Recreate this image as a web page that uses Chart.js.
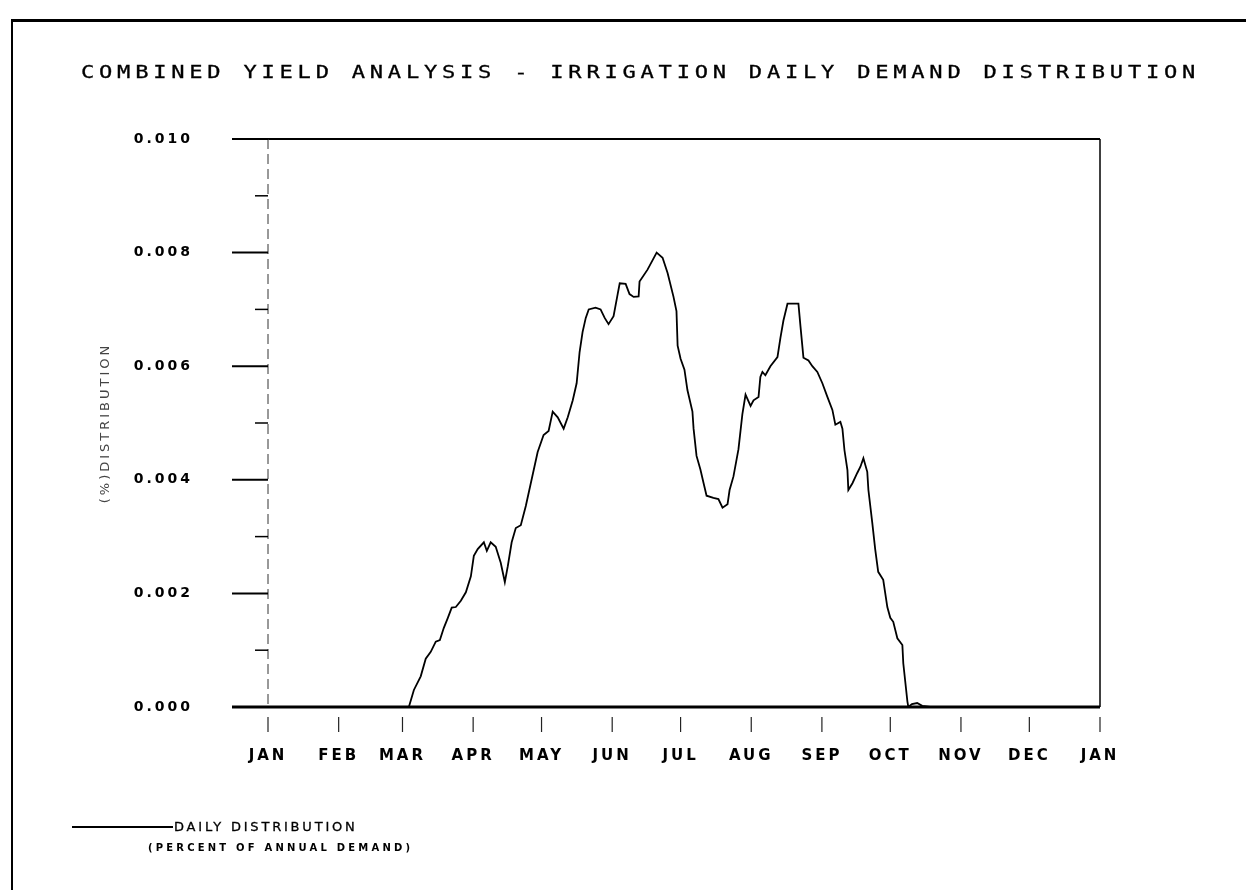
<!DOCTYPE html>
<html><head><meta charset="utf-8">
<script src="https://cdn.jsdelivr.net/npm/chart.js@4/dist/chart.umd.min.js"></script>
<style>
html,body{margin:0;padding:0;background:#fff;}
#wrap{position:relative;width:1246px;height:890px;overflow:hidden;background:#fff;}
#frame{position:absolute;left:11px;top:19px;width:1260px;height:900px;border-top:3px solid #000;border-left:2px solid #000;box-sizing:border-box;}
#title{position:absolute;left:81px;top:62px;font:17px "DejaVu Sans Mono";letter-spacing:3.65px;white-space:nowrap;color:#000;line-height:21px;transform:scaleX(1.3);transform-origin:0 0;-webkit-text-stroke:0.3px #000;}
#legline{position:absolute;left:72px;top:826px;width:101px;height:2px;background:#000;}
#leg1{position:absolute;left:174px;top:818px;font:13px "DejaVu Sans";letter-spacing:2.8px;white-space:nowrap;color:#000;line-height:18px;-webkit-text-stroke:0.3px #000;}
#leg2{position:absolute;left:148px;top:841px;font:bold 10px "DejaVu Sans";letter-spacing:3.2px;white-space:nowrap;color:#000;line-height:14px;}
canvas{position:absolute;left:0;top:0;}
</style></head>
<body>
<div id="wrap">
  <canvas id="c" width="1246" height="890"></canvas>
  <div id="frame"></div>
  <div id="title">COMBINED YIELD ANALYSIS - IRRIGATION DAILY DEMAND DISTRIBUTION</div>
  <div id="legline"></div>
  <div id="leg1">DAILY DISTRIBUTION</div>
  <div id="leg2">(PERCENT OF ANNUAL DEMAND)</div>
</div>
<script>
// ---- data ----
const monthStarts = [0, 31, 59, 90, 120, 151, 181, 212, 243, 273, 304, 334, 365];
const monthLabels = ['JAN','FEB','MAR','APR','MAY','JUN','JUL','AUG','SEP','OCT','NOV','DEC','JAN'];
const yMajorTicks = [0, 0.002, 0.004, 0.006, 0.008, 0.010];
const yMinorTicks = [0.001, 0.003, 0.005, 0.007, 0.009];
const dayOfYear = [0, 61.8, 64.0, 67.0, 69.2, 71.4, 73.6, 75.4, 77.1, 78.9, 80.6, 82.4, 84.6, 86.8, 89.0, 90.3, 92.0, 94.7, 96.0, 97.7, 99.9, 102.1, 103.9, 105.2, 106.9, 108.7, 110.9, 113.1, 118.3, 120.9, 123.1, 124.9, 127.1, 129.7, 131.5, 133.7, 135.4, 136.7, 138.0, 139.4, 140.7, 143.7, 145.9, 147.7, 149.4, 151.6, 153.4, 154.3, 156.9, 158.6, 160.4, 162.6, 163.0, 166.5, 170.5, 173.1, 175.3, 177.9, 179.2, 179.7, 181.0, 182.7, 184.0, 186.2, 186.7, 188.0, 189.7, 191.1, 192.4, 195.4, 197.6, 199.4, 201.6, 202.5, 204.2, 206.4, 208.1, 209.5, 211.7, 213.0, 215.2, 216.0, 216.9, 218.2, 220.4, 223.5, 224.8, 226.1, 227.9, 229.2, 232.7, 233.6, 234.9, 237.1, 238.8, 241.0, 243.2, 245.4, 247.6, 248.9, 251.1, 252.0, 252.9, 254.2, 254.6, 256.4, 258.5, 259.9, 261.2, 262.9, 263.4, 265.1, 266.4, 267.7, 269.9, 271.7, 273.0, 274.3, 276.1, 278.3, 278.7, 280.5, 280.9, 282.5, 284.8, 287.0, 290.5, 365];
const dailyDistribution = [0, 0, 0.0003, 0.00054, 0.00085, 0.00097, 0.00115, 0.00118, 0.00139, 0.00157, 0.00175, 0.00176, 0.00187, 0.00202, 0.0023, 0.00266, 0.00278, 0.0029, 0.00275, 0.0029, 0.00282, 0.00254, 0.0022, 0.00248, 0.0029, 0.00315, 0.0032, 0.00354, 0.00449, 0.00479, 0.00486, 0.0052, 0.0051, 0.0049, 0.0051, 0.0054, 0.0057, 0.00625, 0.0066, 0.00685, 0.007, 0.00703, 0.007, 0.00685, 0.00674, 0.00688, 0.00727, 0.00746, 0.00745, 0.00727, 0.00722, 0.00723, 0.00749, 0.0077, 0.008, 0.00791, 0.00764, 0.00722, 0.00697, 0.00636, 0.00613, 0.00594, 0.00558, 0.0052, 0.0049, 0.00442, 0.00418, 0.00394, 0.00372, 0.00368, 0.00366, 0.00351, 0.00357, 0.00382, 0.00406, 0.00454, 0.00515, 0.0055, 0.0053, 0.0054, 0.00546, 0.00581, 0.0059, 0.00584, 0.006, 0.00616, 0.0065, 0.0068, 0.0071, 0.0071, 0.0071, 0.0067, 0.00615, 0.0061, 0.006, 0.0059, 0.0057, 0.00546, 0.00523, 0.00497, 0.00502, 0.0049, 0.00452, 0.00417, 0.00382, 0.00394, 0.00412, 0.00423, 0.00438, 0.00414, 0.00382, 0.00324, 0.00277, 0.00238, 0.00224, 0.00176, 0.00157, 0.0015, 0.00121, 0.00109, 0.00077, 0.0001, 0, 0.00005, 0.00007, 0.00002, 0, 0];

const points = dayOfYear.map((d, i) => ({x: d, y: dailyDistribution[i]}));

const spacingPlugin = {
  id: 'spacing',
  beforeLayout(chart) { chart.ctx.letterSpacing = '3px'; },
  beforeDraw(chart) { chart.ctx.letterSpacing = '3px'; }
};

const framePlugin = {
  id: 'frameDraw',
  afterDraw(chart) {
    const ctx = chart.ctx;
    const xs = chart.scales.x, ys = chart.scales.y;
    const L = xs.getPixelForValue(0), R = xs.getPixelForValue(365);
    const T = ys.getPixelForValue(0.010), B = ys.getPixelForValue(0);
    ctx.save();
    ctx.letterSpacing = '0px';
    ctx.strokeStyle = '#000';
    ctx.lineCap = 'butt';
    ctx.lineWidth = 2;
    ctx.beginPath(); ctx.moveTo(L - 36, T); ctx.lineTo(R, T); ctx.stroke();
    ctx.lineWidth = 3;
    ctx.beginPath(); ctx.moveTo(L - 36, B); ctx.lineTo(R, B); ctx.stroke();
    ctx.lineWidth = 1.5;
    ctx.beginPath(); ctx.moveTo(R, T); ctx.lineTo(R, B); ctx.stroke();
    ctx.lineWidth = 1;
    ctx.setLineDash([10, 5]);
    ctx.strokeStyle = '#333';
    ctx.beginPath(); ctx.moveTo(L, T); ctx.lineTo(L, B); ctx.stroke();
    ctx.setLineDash([]);
    ctx.strokeStyle = '#000';
    ctx.lineWidth = 2;
    yMajorTicks.forEach(v => {
      const y = ys.getPixelForValue(v);
      ctx.beginPath(); ctx.moveTo(L - 36, y); ctx.lineTo(L, y); ctx.stroke();
    });
    ctx.lineWidth = 1.5;
    yMinorTicks.forEach(v => {
      const y = ys.getPixelForValue(v);
      ctx.beginPath(); ctx.moveTo(L - 13, y); ctx.lineTo(L, y); ctx.stroke();
    });
    ctx.lineWidth = 1.2;
    ctx.strokeStyle = '#222';
    monthStarts.forEach(d => {
      const x = xs.getPixelForValue(d);
      ctx.beginPath(); ctx.moveTo(x, B + 10); ctx.lineTo(x, B + 25); ctx.stroke();
    });
    ctx.restore();
  }
};

new Chart(document.getElementById('c'), {
  type: 'line',
  data: {
    datasets: [{
      label: 'DAILY DISTRIBUTION',
      data: points,
      borderColor: '#000',
      borderWidth: 1.8,
      pointRadius: 0,
      tension: 0,
      fill: false
    }]
  },
  options: {
    responsive: false,
    animation: false,
    devicePixelRatio: 1,
    layout: { padding: { left: 94, right: 146, top: 139, bottom: 0 } },
    plugins: { legend: { display: false }, title: { display: false }, tooltip: { enabled: false } },
    scales: {
      x: {
        type: 'linear', min: 0, max: 365,
        afterBuildTicks: s => { s.ticks = monthStarts.map(v => ({ value: v })); },
        afterFit: s => { s.height = 183; },
        grid: { display: false, drawTicks: false },
        border: { display: false },
        ticks: {
          autoSkip: false, maxRotation: 0, minRotation: 0, padding: 40,
          color: '#000', font: { family: 'DejaVu Sans', size: 15, weight: 'bold' },
          callback: (v, i) => monthLabels[i]
        }
      },
      y: {
        min: 0, max: 0.010,
        afterBuildTicks: s => { s.ticks = yMajorTicks.map(v => ({ value: v })); },
        afterFit: s => { s.width = 174; },
        grid: { display: false, drawTicks: false },
        border: { display: false },
        ticks: {
          padding: 75, color: '#000',
          font: { family: 'DejaVu Sans', size: 14, weight: 'bold' },
          callback: v => v.toFixed(3)
        },
        title: {
          display: true, text: '(%)DISTRIBUTION', color: '#444',
          font: { family: 'DejaVu Sans', size: 13 }, padding: 4
        }
      }
    }
  },
  plugins: [spacingPlugin, framePlugin]
});
</script>
</body></html>
